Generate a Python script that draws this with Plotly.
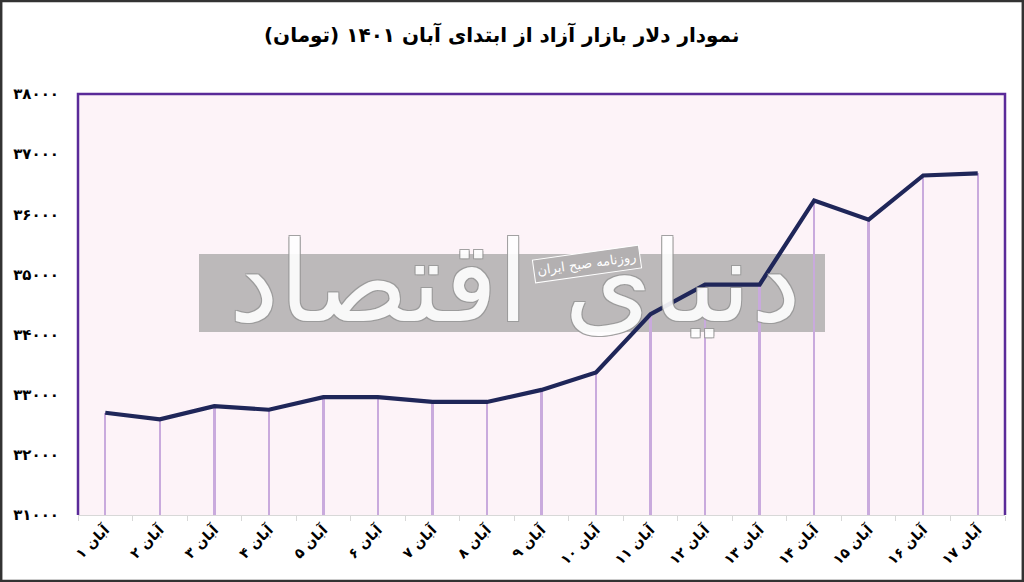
import plotly.graph_objects as go

# free-market dollar, Aban 1401 (toman)
days = ['آبان ۱', 'آبان ۲', 'آبان ۳', 'آبان ۴', 'آبان ۵', 'آبان ۶', 'آبان ۷', 'آبان ۸', 'آبان ۹',
        'آبان ۱۰', 'آبان ۱۱', 'آبان ۱۲', 'آبان ۱۳', 'آبان ۱۴', 'آبان ۱۵', 'آبان ۱۶', 'آبان ۱۷']
price = [32700, 32590, 32810, 32750, 32960, 32960, 32880, 32880, 33080,
         33370, 34340, 34830, 34830, 36230, 35910, 36645, 36680]

ytick_vals = [31000, 32000, 33000, 34000, 35000, 36000, 37000, 38000]
ytick_text = ['۳۱۰۰۰', '۳۲۰۰۰', '۳۳۰۰۰', '۳۴۰۰۰', '۳۵۰۰۰', '۳۶۰۰۰', '۳۷۰۰۰', '۳۸۰۰۰']

title = 'نمودار دلار بازار آزاد از ابتدای آبان ۱۴۰۱ (تومان)'
logo = 'دنیای اقتصاد'
logo_sub = 'روزنامه صبح ایران'

W, H = 1024, 582
ml, mr, mt, mb = 78, 19, 94, 67
pw, ph = W - ml - mr, H - mt - mb

drops = go.Bar(x=days, y=[p - 31000 for p in price], base=31000, width=0.045,
               marker={'color': '#c9aadd', 'line': {'width': 0}},
               hoverinfo='skip', showlegend=False)

line = go.Scatter(x=days, y=price, mode='lines',
                  line={'color': '#1f2659', 'width': 4.2},
                  showlegend=False)

fig = go.Figure()
fig.add_trace(drops)
fig.add_trace(line)

font = 'DejaVu Sans'

fig.update_layout(
    width=W, height=H,
    margin={'l': ml, 'r': mr, 't': mt, 'b': mb},
    paper_bgcolor='white',
    plot_bgcolor='#fdf3f8',
    font={'family': font, 'color': 'black'},
    title={'text': '<b>' + title + '</b>', 'x': 0.49, 'xanchor': 'center',
           'y': 0.94, 'yanchor': 'middle', 'font': {'size': 20, 'family': font}},
    xaxis={'type': 'category', 'tickson': 'boundaries', 'ticks': 'outside',
           'ticklen': 5, 'tickcolor': '#d8d8d8', 'showline': True,
           'linecolor': '#d8d8d8', 'linewidth': 1, 'showgrid': False,
           'automargin': False,
           'tickangle': -45, 'tickfont': {'size': 14, 'family': font, 'weight': 'bold'}},
    yaxis={'range': [31000, 38000], 'tickvals': ytick_vals, 'ticktext': ytick_text,
           'showgrid': False, 'zeroline': False, 'ticks': '',
           'ticklabelstandoff': 18, 'automargin': False,
           'tickfont': {'size': 15, 'family': font, 'weight': 'bold'}},
    bargap=0,
)

# watermark band and logo
fig.add_shape(type='rect', xref='paper', yref='paper',
              x0=(199 - ml) / pw, x1=(825 - ml) / pw,
              y0=1 - (332 - mt) / ph, y1=1 - (254 - mt) / ph,
              fillcolor='#bcb9ba', line={'width': 0}, layer='below')
fig.add_annotation(xref='paper', yref='paper', x=(515 - ml) / pw, y=1 - (282 - mt) / ph,
                   text=logo, showarrow=False,
                   font={'size': 112, 'color': 'white', 'family': font,
                         'shadow': '1px 1px 0 #999, -1px -1px 0 #999, 1px -1px 0 #999, -1px 1px 0 #999'},
                   opacity=0.9)
fig.add_annotation(xref='paper', yref='paper', x=(587 - ml) / pw, y=1 - (264 - mt) / ph,
                   text=logo_sub, showarrow=False, textangle=-8,
                   font={'size': 13, 'color': 'white', 'family': font},
                   bgcolor='#b3b0b1', bordercolor='white', borderwidth=1, borderpad=3)

# purple frame on top/left/right
fig.add_shape(type='path', xref='paper', yref='paper', path='M 0 0 L 0 1 L 1 1 L 1 0',
              line={'color': '#5a2a99', 'width': 2.5})

# outer picture border
fig.add_shape(type='rect', xref='paper', yref='paper',
              x0=-ml / pw + 0.001, x1=1 + mr / pw - 0.001,
              y0=-mb / ph + 0.002, y1=1 + mt / ph - 0.002,
              line={'color': '#333333', 'width': 3})

# the page body has an 8px margin by default; drop it so the figure fills the window
fig.write_html('out.html', config={'displayModeBar': False},
               post_script="document.body.style.margin='0px';")
